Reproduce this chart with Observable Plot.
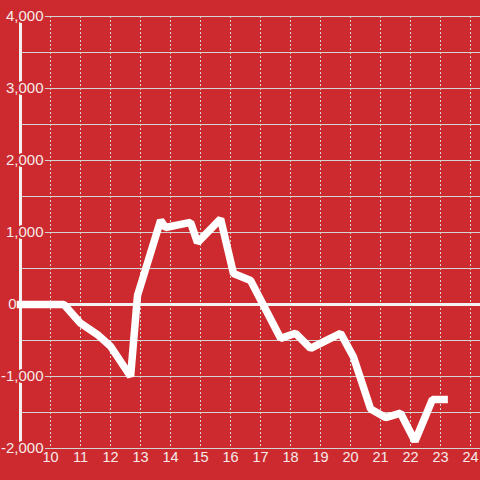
<!DOCTYPE html>
<html>
<head>
<meta charset="utf-8">
<script src="https://cdn.jsdelivr.net/npm/d3@7"></script>
<script src="https://cdn.jsdelivr.net/npm/@observablehq/plot@0.6"></script>
<style>
  html, body { margin: 0; padding: 0; background: #cc2a2f; }
</style>
</head>
<body>
<div id="chart"></div>
<script>
// Data
const xs = [9, 10.45, 11.0, 11.6, 12.0, 12.67, 12.9, 13.67, 13.83, 14.67, 14.9, 15.67, 16.1, 16.67, 17.67, 18.17, 18.67, 19.33, 19.67, 20.1, 20.67, 21.17, 21.67, 22.15, 22.73, 23.12];
const values = [0, 0, -260, -430, -580, -1000, 125, 1167, 1070, 1140, 860, 1190, 430, 333, -470, -400, -610, -470, -400, -730, -1450, -1570, -1510, -1900, -1320, -1320];
const xTicks = [10, 11, 12, 13, 14, 15, 16, 17, 18, 19, 20, 21, 22, 23, 24];
const yLabels = [-2000, -1000, 1000, 2000, 3000, 4000];
const zeroLabel = [0];
const yGrid = [-2000, -1500, -1000, -500, 500, 1000, 1500, 2000, 2500, 3000, 3500, 4000];

const RED = "#cc2a2f";
const WHITE = "#ffffff";
const TEXT = "#f4eaea";
const GRID = "#d4d4d4";

const data = xs.map((x, i) => ({x, y: values[i]}));

const chart = Plot.plot({
  width: 480,
  height: 480,
  marginLeft: 20,
  marginRight: 0,
  marginTop: 16,
  marginBottom: 32,
  style: {background: RED, color: TEXT, fontFamily: "'Liberation Sans', Arial, sans-serif"},
  x: {domain: [9, 24 + 1/3], axis: null},
  y: {domain: [-2000, 4000], axis: null},
  marks: [
    Plot.ruleX(xTicks, {stroke: GRID, strokeWidth: 1, strokeDasharray: "2,2"}),
    Plot.ruleY(yGrid, {stroke: GRID, strokeWidth: 1}),
    Plot.ruleX([9], {stroke: "#f2f2f2", strokeWidth: 3}),
    Plot.ruleY([0], {stroke: "#f2f2f2", strokeWidth: 3}),
    Plot.line(data, {x: "x", y: "y", stroke: WHITE, strokeWidth: 7.5, strokeLinejoin: "miter", strokeLinecap: "square"}),
    Plot.text(yLabels, {
      y: d => d, frameAnchor: "left", text: d => d.toLocaleString("en-US"),
      textAnchor: "end", dx: 23, fill: TEXT, stroke: RED, strokeWidth: 4, fontSize: 15
    }),
    Plot.text(zeroLabel, {
      y: d => d, frameAnchor: "left", text: d => String(d),
      textAnchor: "end", dx: -4, fill: TEXT, fontSize: 15
    }),
    Plot.text(xTicks, {
      x: d => d, frameAnchor: "bottom", text: d => String(d),
      dy: 13, fill: TEXT, fontSize: 14.5
    })
  ]
});
document.getElementById("chart").appendChild(chart);
</script>
</body>
</html>
